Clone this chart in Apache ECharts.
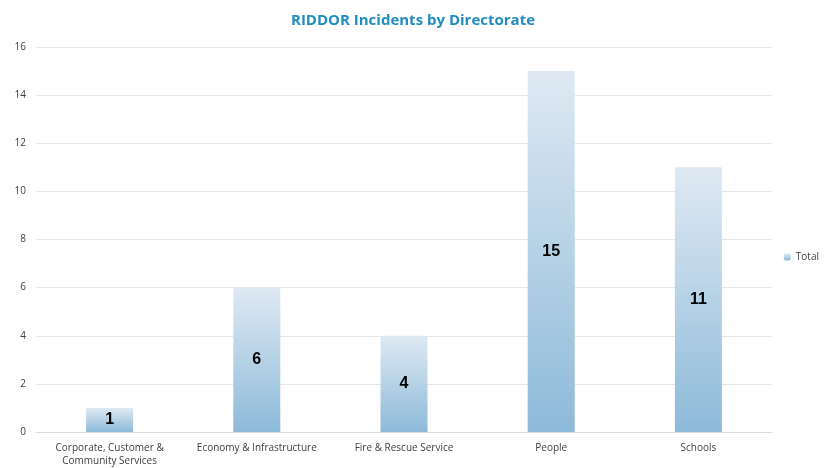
<!DOCTYPE html>
<html>
<head>
<meta charset="utf-8">
<script src="https://cdn.jsdelivr.net/npm/echarts@6/dist/echarts.min.js"></script>
<style>
  html, body { margin: 0; padding: 0; background: #fff; }
  #main { width: 826px; height: 468px; }
</style>
</head>
<body>
<div id="main"></div>
<script>
var categories = ['Corporate, Customer &\nCommunity Services', 'Economy & Infrastructure', 'Fire & Rescue Service', 'People', 'Schools']
var totals = [1, 6, 4, 15, 11]

var chart = echarts.init(document.getElementById('main'))

var barGradient = new echarts.graphic.LinearGradient(0, 0, 0, 1, [
  { offset: 0, color: '#dfe9f3' },
  { offset: 1, color: '#8dbad9' }
])

var option = {
  animation: false,
  textStyle: { fontFamily: 'Open Sans, Liberation Sans, sans-serif' },
  title: {
    text: 'RIDDOR Incidents by Directorate',
    left: 'center',
    top: 8,
    textStyle: { color: '#1f8dbd', fontSize: 15, fontWeight: 'bold' }
  },
  legend: {
    data: ['Total'],
    orient: 'vertical',
    right: 2,
    top: 247,
    itemWidth: 7,
    itemHeight: 7,
    itemGap: 4,
    textStyle: { color: '#404040', fontSize: 10 }
  },
  grid: { left: 36, right: 54, top: 47, bottom: 32 },
  xAxis: {
    type: 'category',
    data: categories,
    axisTick: { show: false },
    axisLine: { lineStyle: { color: '#d9d9d9' } },
    axisLabel: { color: '#404040', fontSize: 10, interval: 0, margin: 10, lineHeight: 13 }
  },
  yAxis: {
    type: 'value',
    min: 0,
    max: 16,
    interval: 2,
    splitLine: { lineStyle: { color: '#e6e6e6' } },
    axisLine: { show: false },
    axisTick: { show: false },
    axisLabel: { color: '#404040', fontSize: 10, margin: 10 }
  },
  series: [
    {
      name: 'Total',
      type: 'bar',
      data: totals,
      barWidth: 47,
      itemStyle: { color: barGradient },
      label: {
        show: true,
        position: 'inside',
        color: '#000',
        fontSize: 16,
        fontWeight: 'bold',
        fontFamily: 'Liberation Sans, Arial, sans-serif'
      }
    }
  ]
}

chart.setOption(option)
</script>
</body>
</html>
